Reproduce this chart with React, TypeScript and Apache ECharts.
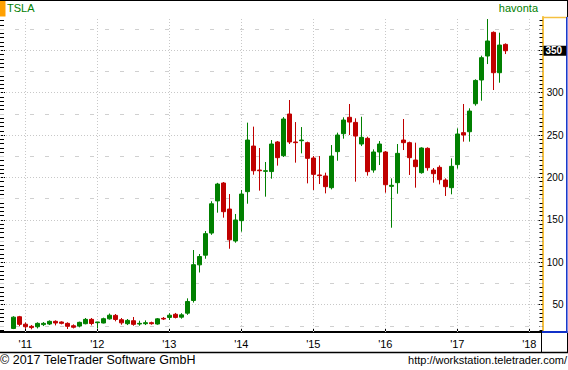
import React, { useEffect, useRef } from 'react';
import * as echarts from 'echarts';

const months = [
  '2010-11', '2010-12',
  '2011-01', '2011-02', '2011-03', '2011-04', '2011-05', '2011-06', '2011-07', '2011-08', '2011-09', '2011-10', '2011-11', '2011-12',
  '2012-01', '2012-02', '2012-03', '2012-04', '2012-05', '2012-06', '2012-07', '2012-08', '2012-09', '2012-10', '2012-11', '2012-12',
  '2013-01', '2013-02', '2013-03', '2013-04', '2013-05', '2013-06', '2013-07', '2013-08', '2013-09', '2013-10', '2013-11', '2013-12',
  '2014-01', '2014-02', '2014-03', '2014-04', '2014-05', '2014-06', '2014-07', '2014-08', '2014-09', '2014-10', '2014-11', '2014-12',
  '2015-01', '2015-02', '2015-03', '2015-04', '2015-05', '2015-06', '2015-07', '2015-08', '2015-09', '2015-10', '2015-11', '2015-12',
  '2016-01', '2016-02', '2016-03', '2016-04', '2016-05', '2016-06', '2016-07', '2016-08', '2016-09', '2016-10', '2016-11', '2016-12',
  '2017-01', '2017-02', '2017-03', '2017-04', '2017-05', '2017-06', '2017-07', '2017-08', '2017-09',
];

const opens = [
  22, 35.8,
  27, 24.5, 24, 26.5, 27.2, 30.4, 29.6, 28, 25.2, 24.8, 27.6, 32.7,
  28.8, 28.4, 33.3, 37.4, 32.3, 27.6, 31.1, 27.2, 27.6, 28.8, 27.2, 33.9,
  35, 38.7, 35.3, 40, 55, 97, 108.4, 134.5, 172.4, 193.5, 162.8, 125.1,
  149.1, 183.3, 237.1, 208.8, 207.3, 207, 241.9, 225.7, 274.9, 241.9, 243.4, 241.1,
  223, 203, 201.8, 188, 230.5, 251.7, 271, 265, 239.5, 246.2, 208.8, 230.1,
  230.1, 189.6, 193.9, 244.2, 241.1, 220.6, 205.7, 234.4, 208.8, 212, 197, 188,
  215.2, 252.9, 254, 287, 315, 343.3, 371.2, 323.6, 357,
];

const closes = [
  35.3, 26.8,
  24, 23, 28, 28, 30.4, 28.4, 28, 24.5, 23.4, 29.2, 32.7, 27.8,
  29.6, 33.5, 37.6, 32.6, 28.6, 31.5, 26.8, 28, 28.8, 27.6, 33.3, 33.1,
  37.6, 35, 38, 53.8, 97.2, 106.8, 133.8, 169, 192.3, 159.7, 126.5, 149.9,
  180.5, 244.2, 208, 208, 208, 239.5, 223.4, 269, 241.9, 241.1, 244.2, 222.6,
  203.7, 202.2, 189.2, 225.3, 250.1, 267.8, 265.4, 248.9, 247.4, 206.9, 230.1, 239.5,
  191.5, 190.8, 228.5, 241.1, 223.4, 212.8, 234.8, 211.6, 204.5, 197.4, 189.2, 213.2,
  251.3, 250.1, 278.4, 314.5, 341.3, 361, 323.6, 356.2, 349.5,
];

const lows = [
  21.2, 24.5,
  21.5, 21, 22, 24.8, 26, 25.6, 26.8, 21.3, 22, 23.3, 26.8, 25.6,
  22, 28, 32.4, 30.4, 26.4, 26, 25.2, 25.2, 26, 26.4, 26.4, 31.9,
  32, 33.8, 33.5, 38, 52.5, 88, 104.2, 132.4, 158.5, 152.6, 116, 123.1,
  136.1, 169.1, 203.3, 184.5, 177.4, 198.6, 214, 224.2, 239.5, 217.5, 228.5, 193.1,
  185.3, 192.3, 181.3, 186, 219.8, 245.8, 250.1, 195.1, 237.1, 202.2, 205.7, 214.7,
  182.1, 140.8, 180.9, 232.4, 203, 188, 204.5, 208, 193.9, 191.9, 178.2, 180.2,
  210.4, 242.3, 242.3, 284.7, 290.6, 333.8, 303.2, 311.8, 345.6,
];

const highs = [
  36.4, 36.8,
  29, 26, 29.2, 29.5, 31.5, 31.5, 30.4, 29.2, 26.8, 30, 34.3, 34.3,
  29.8, 34.7, 39.6, 39, 34.3, 33.1, 35.5, 31.1, 31.5, 30, 34.3, 35.5,
  40, 40.3, 40, 57.5, 114.5, 109.8, 136.9, 172, 193.7, 194.7, 180.5, 157,
  185.3, 264.7, 260, 234.8, 218.3, 244.2, 243, 271.3, 291.4, 265.4, 259.5, 242.3,
  225.3, 225.3, 205.7, 238.3, 252.9, 271, 286.7, 269.8, 271.7, 248.1, 233.2, 243,
  231.2, 199, 239.5, 269, 242.3, 241.1, 235.6, 235.6, 211.2, 214.3, 199, 222.6,
  258, 286.7, 281.6, 315.8, 343.7, 386.9, 372.3, 370.8, 358.2,
];

const yearStarts = ['2011-01', '2012-01', '2013-01', '2014-01', '2015-01', '2016-01', '2017-01', '2018-01'];
const yearLabels = ["'11", "'12", "'13", "'14", "'15", "'16", "'17", "'18"];
const priceTicks = [50, 100, 150, 200, 250, 300, 350];
const halfTicks = [25, 75, 125, 175, 225, 275, 325, 375];
const minorStep = 5;

const FONT = 'Liberation Sans';

function monthIndex(s: string) {
  return (Number(s.slice(0, 4)) - 2011) * 12 + Number(s.slice(5, 7)) - 1;
}

export default function App() {
  const ref = useRef<HTMLDivElement>(null);

  useEffect(() => {
    if (!ref.current) return;
    const chart = echarts.init(ref.current, null, { renderer: 'svg' });

    const yMin = 17.8;
    const yMax = 389.3;
    const minorTicks: number[] = [];
    for (let v = Math.ceil(yMin / minorStep) * minorStep; v <= yMax; v += minorStep) {
      if (v % 50 !== 0) minorTicks.push(v);
    }
    const yearPos = yearStarts.map(monthIndex);
    const candleData = months.map((m, i) => [monthIndex(m), opens[i], closes[i], lows[i], highs[i]]);
    const lastClose = closes[closes.length - 1];

    const gridDotted = { color: '#c8c8c8', type: [1, 2] as any, width: 1 };
    const gridDash = { color: '#d0d0d0', type: [4, 11] as any, width: 1 };

    const tickAxis = (pos: 'left' | 'right', values: number[], len: number) => ({
      type: 'value',
      position: pos,
      min: yMin,
      max: yMax,
      axisLine: { show: false, onZero: false },
      splitLine: { show: false },
      axisLabel: { show: false },
      axisTick: { show: true, inside: true, length: len, customValues: values, lineStyle: { color: '#000', width: 1 } },
    });

    const option: any = {
      animation: false,
      backgroundColor: '#fff',
      title: [
        { text: 'TSLA', left: 7, top: 2, padding: 0, textStyle: { color: '#008000', fontSize: 11, fontWeight: 'normal', fontFamily: FONT } },
        { text: 'havonta', right: 30, top: 2, padding: 0, textStyle: { color: '#008000', fontSize: 11, fontWeight: 'normal', fontFamily: FONT } },
        { text: '© 2017 TeleTrader Software GmbH', left: 0, top: 353, padding: 0, textStyle: { color: '#000', fontSize: 12.5, fontWeight: 'normal', fontFamily: FONT } },
        { text: 'http://workstation.teletrader.com/', right: 1, top: 354, padding: 0, textStyle: { color: '#000', fontSize: 11, fontWeight: 'normal', fontFamily: FONT } },
      ],
      grid: { left: 0, right: 25.5, top: 17, bottom: 38, containLabel: false, outerBoundsMode: 'none' },
      xAxis: {
        type: 'value',
        min: -4.22,
        max: 86.2,
        splitLine: { show: false },
        axisLine: { show: true, onZero: false, lineStyle: { color: '#000', width: 2 } },
        axisTick: { show: true, inside: true, length: 3, customValues: yearPos, lineStyle: { color: '#000' } },
        axisLabel: {
          customValues: yearPos,
          formatter: (v: number) => yearLabels[yearPos.indexOf(v)] ?? '',
          margin: 6,
          color: '#000',
          fontSize: 11,
          fontFamily: FONT,
        },
      },
      yAxis: [
        {
          type: 'value',
          position: 'right',
          min: yMin,
          max: yMax,
          splitLine: { show: false },
          axisLine: { show: true, onZero: false, lineStyle: { color: '#f5c040', width: 2 } },
          axisTick: { show: true, inside: true, length: 4, customValues: priceTicks, lineStyle: { color: '#000' } },
          axisLabel: {
            customValues: priceTicks,
            align: 'right',
            margin: 21,
            color: '#000',
            fontSize: 10,
            fontFamily: FONT,
          },
        },
        tickAxis('right', minorTicks, 3),
        tickAxis('left', priceTicks, 5),
        tickAxis('left', minorTicks, 4),
      ],
      graphic: [
        { type: 'rect', shape: { x: 0, y: 0, width: 5.5, height: 16.5 }, style: { fill: '#ffa000' }, z: 10 },
        { type: 'line', shape: { x1: 0, y1: 0.5, x2: 568, y2: 0.5 }, style: { stroke: '#000', lineWidth: 1 }, z: 10 },
        { type: 'line', shape: { x1: 567.5, y1: 0, x2: 567.5, y2: 17 }, style: { stroke: '#000', lineWidth: 1 }, z: 10 },
        { type: 'line', shape: { x1: 542, y1: 17.5, x2: 567, y2: 17.5 }, style: { stroke: '#f5c040', lineWidth: 1.5 }, z: 10 },
        { type: 'line', shape: { x1: 566.8, y1: 17, x2: 566.8, y2: 333 }, style: { stroke: '#1030c8', lineWidth: 1.5 }, z: 10 },
        { type: 'line', shape: { x1: 542, y1: 332, x2: 567.5, y2: 332 }, style: { stroke: '#1030c8', lineWidth: 2 }, z: 10 },
        { type: 'line', shape: { x1: 0, y1: 352.5, x2: 568, y2: 352.5 }, style: { stroke: '#000', lineWidth: 1.5 }, z: 10 },
        { type: 'line', shape: { x1: 541.5, y1: 332, x2: 541.5, y2: 353 }, style: { stroke: '#000', lineWidth: 1 }, z: 10 },
        { type: 'line', shape: { x1: 567.5, y1: 333, x2: 567.5, y2: 353 }, style: { stroke: '#000', lineWidth: 1 }, z: 10 },
      ],
      series: [
        {
          type: 'line',
          data: [],
          z: 1,
          silent: true,
          markLine: {
            z: 1,
            silent: true,
            symbol: ['none', 'none'],
            label: { show: false },
            emphasis: { disabled: true },
            data: [
              ...priceTicks.map((v) => ({ yAxis: v, lineStyle: gridDotted })),
              ...halfTicks.map((v) => ({ yAxis: v, lineStyle: gridDash })),
              ...yearPos.map((m) => ({ xAxis: m, lineStyle: gridDotted })),
            ],
          },
        },
        {
          type: 'candlestick',
          data: candleData,
          encode: { x: 0, y: [1, 2, 3, 4] },
          barWidth: 4,
          clip: false,
          z: 3,
          itemStyle: {
            color: '#008000',
            color0: '#c00000',
            borderColor: '#008000',
            borderColor0: '#c00000',
            borderColorDoji: '#008000',
            borderWidth: 1,
          },
          markLine: {
            z: 12,
            silent: true,
            symbol: ['none', 'none'],
            lineStyle: { color: 'rgba(0,0,0,0)', width: 1 },
            data: [{ yAxis: lastClose }],
            label: {
              show: true,
              position: 'end',
              distance: 1,
              formatter: () => String(Math.round(lastClose)),
              backgroundColor: '#000',
              color: '#fff',
              fontSize: 10,
              fontWeight: 'bold',
              fontFamily: FONT,
              lineHeight: 10,
              padding: [0, 4, 0, 2],
            },
          },
        },
      ],
    };

    chart.setOption(option);
    return () => chart.dispose();
  }, []);

  return <div ref={ref} style={{ position: 'fixed', left: 0, top: 0, width: 568, height: 370 }} />;
}
